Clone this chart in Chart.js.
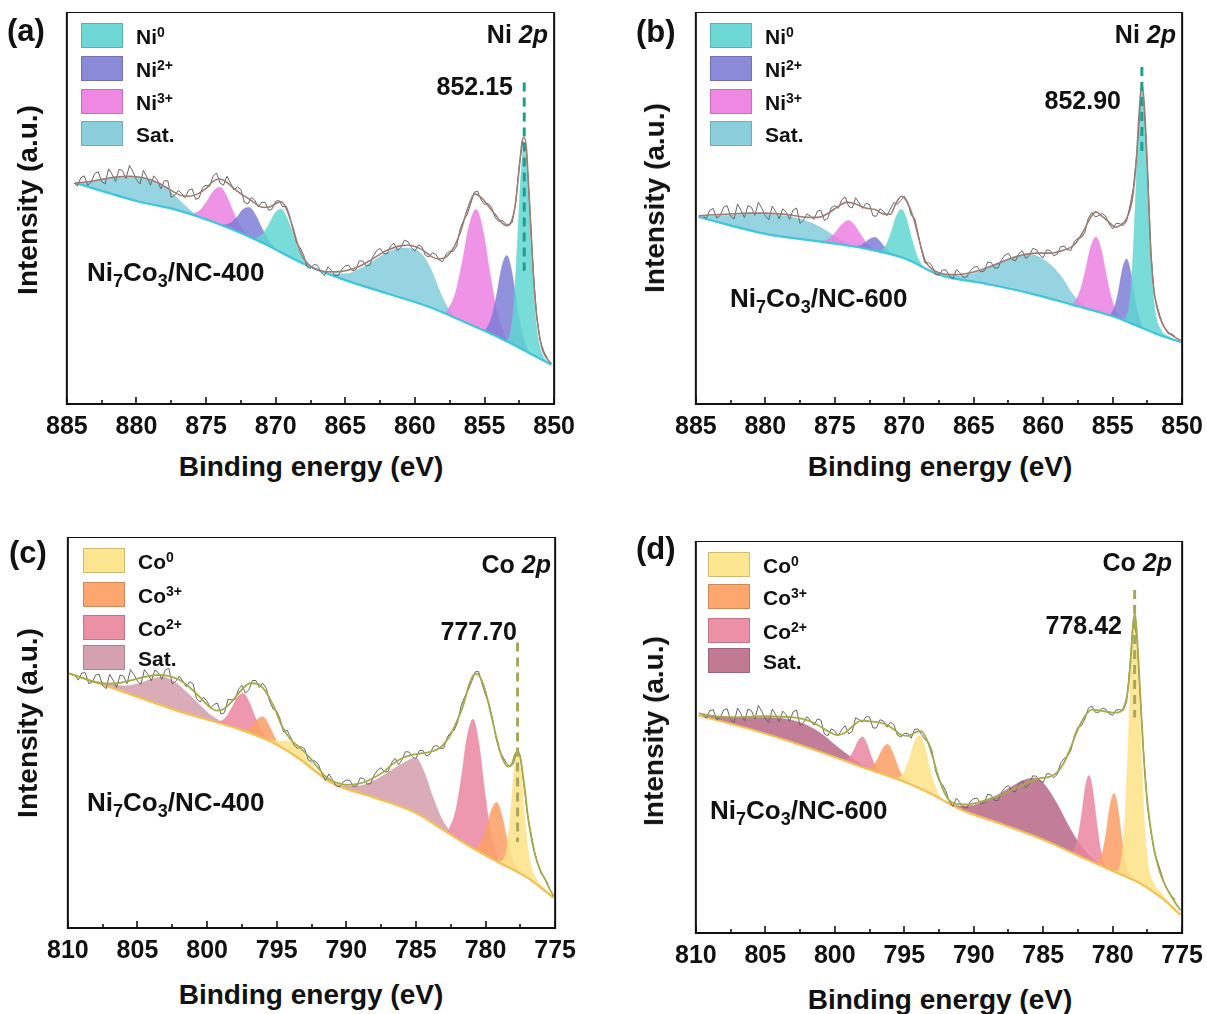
<!DOCTYPE html>
<html><head><meta charset="utf-8">
<script src="https://cdn.jsdelivr.net/npm/chart.js@4.4.1/dist/chart.umd.min.js"></script>
<style>
body{margin:0;background:#fff;width:1207px;height:1014px;overflow:hidden;position:relative;font-family:'Liberation Sans',Arial,sans-serif;}
canvas{position:absolute;}
.t{position:absolute;font-weight:bold;color:#111;white-space:nowrap;line-height:1;}
.pl{font-size:31px;}
.core{font-size:25px;}
.pk{font-size:25px;}
.sm{font-size:26px;}
.xt{font-size:28px;transform:translate(-50%,-50%);}
.yt{font-size:28px;transform:translate(-50%,-50%) rotate(-90deg);}
.lb{position:absolute;width:42px;height:25px;box-sizing:border-box;border:1px solid rgba(0,0,0,0.18);}
.lt{position:absolute;font-weight:bold;font-size:21px;color:#111;line-height:1;white-space:nowrap;}
.lt sup{font-size:14px;position:relative;top:-1px;vertical-align:top;}
.sm sub{font-size:18px;vertical-align:baseline;position:relative;top:6px;}
</style></head>
<body>
<canvas id="ca"></canvas><canvas id="cb"></canvas><canvas id="cc"></canvas><canvas id="cd"></canvas>

<div class="t pl" style="left:7px;top:15px">(a)</div>
<div class="t pl" style="left:636px;top:16px">(b)</div>
<div class="t pl" style="left:9px;top:537px">(c)</div>
<div class="t pl" style="left:636px;top:533px">(d)</div>

<div class="t core" style="right:659px;top:22px">Ni <i>2p</i></div>
<div class="t core" style="right:31px;top:22px">Ni <i>2p</i></div>
<div class="t core" style="right:656px;top:552px">Co <i>2p</i></div>
<div class="t core" style="right:35px;top:550px">Co <i>2p</i></div>

<div class="t pk" style="right:694px;top:74px">852.15</div>
<div class="t pk" style="right:86px;top:88px">852.90</div>
<div class="t pk" style="right:690px;top:619px">777.70</div>
<div class="t pk" style="right:85px;top:613px">778.42</div>

<div class="t sm" style="left:87px;top:259px">Ni<sub>7</sub>Co<sub>3</sub>/NC-400</div>
<div class="t sm" style="left:730px;top:285px">Ni<sub>7</sub>Co<sub>3</sub>/NC-600</div>
<div class="t sm" style="left:87px;top:789px">Ni<sub>7</sub>Co<sub>3</sub>/NC-400</div>
<div class="t sm" style="left:710px;top:797px">Ni<sub>7</sub>Co<sub>3</sub>/NC-600</div>

<div class="t xt" style="left:311px;top:467px">Binding energy (eV)</div>
<div class="t xt" style="left:940px;top:467px">Binding energy (eV)</div>
<div class="t xt" style="left:311px;top:995px">Binding energy (eV)</div>
<div class="t xt" style="left:940px;top:1000px">Binding energy (eV)</div>

<div class="t yt" style="left:28px;top:200px">Intensity (a.u.)</div>
<div class="t yt" style="left:655px;top:198px">Intensity (a.u.)</div>
<div class="t yt" style="left:28px;top:723px">Intensity (a.u.)</div>
<div class="t yt" style="left:654px;top:731px">Intensity (a.u.)</div>

<div id="legends"></div>

<script>
// ---------------- categories / ticks ----------------
const niMajorTicks = [885, 880, 875, 870, 865, 860, 855, 850];
const niMinorTicks = [882.5, 877.5, 872.5, 867.5, 862.5, 857.5, 852.5];
const coMajorTicks = [810, 805, 800, 795, 790, 785, 780, 775];
const coMinorTicks = [807.5, 802.5, 797.5, 792.5, 787.5, 782.5, 777.5];

const niEnergies = [884.5,884,883.5,883,882.5,882,881.5,881,880.5,880,879.5,879,878.5,878,877.5,877,876.5,876,875.5,875,874.5,874,873.5,873,872.5,872,871.5,871,870.5,870,869.5,869,868.5,868,867.5,867,866.5,866,865.5,865,864.5,864,863.5,863,862.5,862,861.5,861,860.5,860,859.5,859,858.5,858,857.5,857,856.5,856,855.5,855,854.5,854,853.5,853,852.5,852,851.5,851,850.5];
const niMidEnergies = [884.25,883.75,883.25,882.75,882.25,881.75,881.25,880.75,880.25,879.75,879.25,878.75,878.25,877.75,877.25,876.75,876.25,875.75,875.25,874.75,874.25,873.75,873.25,872.75,872.25,871.75,871.25,870.75,870.25,869.75,869.25,868.75,868.25,867.75,867.25,866.75,866.25,865.75,865.25,864.75,864.25,863.75,863.25,862.75,862.25,861.75,861.25,860.75,860.25,859.75,859.25,858.75,858.25,857.75,857.25,856.75,856.25,855.75,855.25,854.75,854.25,853.75,853.25,852.75,852.25,851.75,851.25,850.75];
const coEnergies = [809.5,809,808.5,808,807.5,807,806.5,806,805.5,805,804.5,804,803.5,803,802.5,802,801.5,801,800.5,800,799.5,799,798.5,798,797.5,797,796.5,796,795.5,795,794.5,794,793.5,793,792.5,792,791.5,791,790.5,790,789.5,789,788.5,788,787.5,787,786.5,786,785.5,785,784.5,784,783.5,783,782.5,782,781.5,781,780.5,780,779.5,779,778.5,778,777.5,777,776.5,776,775.5];
const coMidEnergies = [809.25,808.75,808.25,807.75,807.25,806.75,806.25,805.75,805.25,804.75,804.25,803.75,803.25,802.75,802.25,801.75,801.25,800.75,800.25,799.75,799.25,798.75,798.25,797.75,797.25,796.75,796.25,795.75,795.25,794.75,794.25,793.75,793.25,792.75,792.25,791.75,791.25,790.75,790.25,789.75,789.25,788.75,788.25,787.75,787.25,786.75,786.25,785.75,785.25,784.75,784.25,783.75,783.25,782.75,782.25,781.75,781.25,780.75,780.25,779.75,779.25,778.75,778.25,777.75,777.25,776.75,776.25,775.75];

// ---------------- (a) Ni 2p, NC-400 ----------------
const aRaw = [56.4,57.7,55.8,58.8,56.7,60.0,56.8,59.5,60.9,57.2,59.6,55.8,57.1,56.9,52.7,54.5,52.6,54.9,52.6,55.8,58.1,56.4,58.1,54.6,54.7,51.0,52.0,51.5,49.4,51.7,50.3,48.1,41.0,38.1,34.6,35.4,32.7,34.1,32.8,35.2,34.0,36.5,35.2,37.7,39.7,38.3,41.0,40.0,41.4,39.0,40.1,37.5,38.2,36.3,39.0,40.3,46.9,51.0,54.3,50.9,50.2,46.6,46.0,46.4,61.0,64.7,33.8,16.1,11.8];
const aRawMid = [55.6,58.2,56.6,59.3,56.1,58.6,59.9,57.5,59.2,56.1,57.9,58.2,54.9,57.0,53.3,53.7,54.6,52.2,55.3,55.5,58.9,55.8,56.4,55.4,51.5,52.7,50.3,51.4,49.8,51.9,50.5,44.1,39.9,35.0,35.6,33.7,35.0,32.8,34.4,35.4,34.2,36.5,35.4,39.1,38.4,40.3,39.1,41.8,39.9,40.6,37.9,38.6,36.7,38.3,38.9,44.7,48.3,54.0,52.1,51.2,47.7,46.9,45.5,51.8,67.0,50.3,22.3,13.5];
const aEnvelope = [[884.4,56.4],[883.5,56.7],[882.5,57.3],[881.5,57.9],[880.5,58.1],[879.5,57.7],[878.5,56.5],[877.5,54.5],[876.8,53.2],[876.2,53.0],[875.6,53.6],[875,55.0],[874.5,56.8],[874,57.4],[873.5,56.5],[873,55.0],[872.5,53.6],[872,52.5],[871.5,51.3],[871,50.2],[870.5,50.2],[870,51.1],[869.6,51.6],[869.2,49.5],[868.8,45.4],[868.4,40.5],[868,37.2],[867.4,34.9],[866.5,33.8],[865.7,33.7],[865,34.0],[864,35.1],[863,37.1],[862,39.2],[861,40.4],[860.5,40.5],[860,40.2],[859.4,39.2],[858.8,37.6],[858.3,37.0],[857.8,37.4],[857.2,40.0],[856.7,44.2],[856.2,50.0],[855.7,53.6],[855.2,52.5],[854.7,50.4],[854.2,48.2],[853.8,46.4],[853.4,45.5],[853.1,46.4],[852.8,50.5],[852.5,60.5],[852.3,67.0],[852.15,68.0],[852.0,65.5],[851.8,53.5],[851.6,40.0],[851.4,28.0],[851.15,19.5],[850.9,14.6],[850.6,12.0],[850.2,10.3]];
const aBaseline = [[884.4,56.4],[880,51.8],[877,49.4],[874,45.8],[871,41.2],[868,35.8],[865,31.6],[862,28.2],[859,24.8],[856,20.2],[854,17.0],[852,13.4],[850.2,10.0]];
const aSat1 = [[884.4,56.4],[883.5,56.6],[882.5,57.2],[881.5,57.8],[880.5,58.0],[879.5,57.6],[878.5,56.3],[877.5,54.0],[876.8,51.6],[876.2,49.6],[875.6,47.7]];
const aNi3p12 = [[876.08,48.3],[875.44,49.4],[874.96,51.6],[874.48,54.3],[874.0,55.3],[873.52,53.0],[873.04,48.9],[872.56,45.5],[871.92,42.6]];
const aNi2p12 = [[873.85,45.6],[873.25,46.2],[872.8,47.6],[872.35,49.6],[871.9,50.1],[871.45,48.2],[871.0,44.9],[870.55,41.9],[869.95,39.3]];
const aNi0p12 = [[871.55,42.0],[870.95,43.3],[870.5,45.7],[870.05,48.7],[869.6,49.7],[869.15,47.1],[868.7,42.5],[868.25,38.5],[867.65,35.3]];
const aSat2 = [[867.2,34.7],[866,33.2],[865,33.2],[864,34.4],[863,36.5],[862,38.6],[861,39.8],[860.3,39.7],[859.5,38.2],[858.8,34.0],[858.2,28.6],[857.6,24.3],[857,21.7]];
const aNi3p32 = [[857.81,23.0],[857.13,27.8],[856.62,35.8],[856.11,45.4],[855.6,49.6],[855.09,43.8],[854.58,32.6],[854.07,23.0],[853.39,15.9]];
const aNi2p32 = [[854.96,18.5],[854.48,22.2],[854.12,27.9],[853.76,34.9],[853.4,37.9],[853.04,33.6],[852.68,25.3],[852.32,18.3],[851.84,13.1]];
const aNi0p32 = [[853.55,15.6],[853.15,18.0],[852.9,25.1],[852.65,40.2],[852.4,57.7],[852.15,65.7],[851.9,56.8],[851.65,39.0],[851.4,24.5],[851.15,16.6],[850.75,12.0],[850.2,10.0]];
const aMarker = [[852.15,82],[852.15,34]];

// ---------------- (b) Ni 2p, NC-600 ----------------
const bRaw = [48.1,49.4,47.4,50.2,47.9,51.0,47.55,50.2,51.5,48.0,50.5,47.2,48.9,49.5,46.05,48.5,47.1,49.4,47.4,50.6,52.1,50.4,52.6,49.9,50.9,47.9,49.2,49.7,50.9,53.0,48.1,43.4,35.9,35.3,32.9,34.2,31.9,33.5,32.4,34.9,33.7,36.2,34.7,36.8,38.4,36.5,39.1,37.9,39.4,37.3,39.2,38.2,40.3,39.2,42.3,43.8,48.9,48.1,47.9,44.7,46.0,46.6,55.4,77.4,60.5,27.7,21.3,17.9,17.2];
const bRawMid = [47.3,49.9,48.1,50.6,47.2,49.4,50.6,48.1,49.9,47.0,49.1,49.8,47.1,50.0,46.9,47.9,49.2,46.8,50.1,49.9,52.8,50.0,51.3,51.2,48.0,49.8,48.0,51.4,51.9,51.5,47.4,39.0,36.1,33.0,34.2,32.7,34.3,32.3,34.0,35.1,33.9,36.1,34.7,38.0,36.9,38.4,37.1,39.7,38.0,39.3,37.8,40.1,39.3,41.5,42.4,47.4,47.7,48.6,45.9,46.1,45.5,50.7,64.6,77.0,38.8,24.3,19.4,17.9];
const bEnvelope = [[884.8,48.0],[884,48.2],[883,48.4],[882,48.6],[881,48.7],[880,48.7],[879,48.5],[878,48.1],[877,47.6],[876.2,47.6],[875.5,48.6],[874.8,50.3],[874.1,51.5],[873.5,51.0],[872.8,50.0],[872.1,49.6],[871.5,48.5],[871,48.4],[870.6,51.2],[870.2,53.0],[869.8,51.5],[869.3,47.0],[868.9,41.5],[868.5,36.6],[868,34.4],[867.5,33.5],[866.5,33.0],[865.5,33.3],[864.5,34.2],[863.5,35.5],[862.5,36.9],[861.5,38.0],[860.5,38.5],[859.5,38.5],[858.5,39.3],[857.8,40.5],[857.2,43.5],[856.6,47.5],[856.2,49.0],[855.8,48.0],[855.3,46.5],[854.8,45.1],[854.3,46.0],[854.0,47.3],[853.6,52.0],[853.3,62.0],[853.1,74.0],[852.9,81.8],[852.7,75.0],[852.5,60.0],[852.3,42.0],[852.1,31.0],[851.8,24.5],[851.4,20.3],[851,18.3],[850.5,17.0],[850.1,16.2]];
const bBaseline = [[884.8,47.7],[880,43.4],[876,41.4],[873,39.8],[870,37.2],[867.5,33.0],[864,30.6],[861,28.3],[858,25.4],[855,22.4],[853,19.6],[851.5,17.4],[850.1,15.8]];
const bSat1 = [[884.8,47.7],[883.5,48.0],[882,48.3],[880.5,48.4],[879,48.1],[878,47.6],[877,46.6],[876,45.0],[875.2,43.2],[874.5,41.7],[873.6,40.1]];
const bNi3p12 = [[875.95,41.4],[875.35,42.3],[874.9,44.0],[874.45,45.9],[874.0,46.8],[873.55,45.4],[873.1,43.0],[872.65,40.8],[872.05,39.0]];
const bNi2p12 = [[873.53,40.1],[873.09,40.5],[872.76,41.3],[872.43,42.2],[872.1,42.5],[871.77,41.6],[871.44,40.1],[871.11,38.9],[870.67,37.8]];
const bNi0p12 = [[871.76,38.7],[871.28,40.7],[870.92,44.0],[870.56,48.0],[870.2,49.7],[869.84,47.2],[869.48,42.3],[869.12,38.1],[868.64,34.9]];
const bSat2 = [[867.6,33.2],[866.2,32.7],[865,33.3],[864,34.6],[863,36.2],[862,37.7],[861,38.2],[860.3,37.5],[859.5,35.6],[858.7,32.5],[858,28.6],[857.3,25.7],[856.5,23.9]];
const bNi3p32 = [[857.89,25.3],[857.37,28.6],[856.98,33.7],[856.59,39.9],[856.2,42.6],[855.81,39.1],[855.42,32.1],[855.03,26.2],[854.51,21.7]];
const bNi2p32 = [[855.17,22.6],[854.81,25.3],[854.54,29.6],[854.27,34.8],[854.0,37.0],[853.73,34.0],[853.46,28.0],[853.19,23.1],[852.83,19.35]];
const bNi0p32 = [[854.3,21.4],[853.9,23.6],[853.65,31.0],[853.4,48.1],[853.15,70.0],[852.9,80.5],[852.65,69.3],[852.4,47.1],[852.15,30.4],[851.9,22.7],[851.5,18.7],[851.0,17.3],[850.1,15.8]];
const bMarker = [[852.9,86],[852.9,64]];

// ---------------- (c) Co 2p, NC-400 ----------------
const cRaw = [64.6,65.2,62.5,64.7,62.0,64.9,61.5,64.4,66.1,63.1,66.1,63.2,65.3,66.0,62.4,64.4,61.7,62.4,57.8,58.0,57.2,54.7,58.4,58.4,62.1,60.9,63.3,62.6,57.9,55.5,50.1,48.8,45.9,45.9,42.5,41.8,37.7,38.0,36.1,37.8,36.2,38.4,36.8,39.1,41.0,40.0,43.4,43.0,45.0,43.3,45.4,44.4,46.7,46.0,50.0,52.6,59.1,63.0,65.6,59.6,53.6,45.3,42.2,42.0,44.0,29.2,19.8,13.9,11.2];
const cRawMid = [63.4,65.3,62.9,64.9,61.2,63.4,64.7,62.5,64.8,62.3,64.9,66.0,63.6,66.4,63.1,63.2,63.0,58.6,59.0,56.2,57.5,55.1,58.4,61.0,60.1,63.3,61.5,61.3,56.0,53.4,50.6,46.7,46.4,43.1,42.8,39.4,39.4,36.4,37.3,37.8,36.3,38.2,36.9,40.4,39.9,42.3,41.8,45.1,43.8,45.4,44.0,46.4,45.9,48.8,50.6,56.9,60.8,65.5,62.5,57.4,48.6,43.7,41.3,45.3,36.8,24.5,16.5,12.8];
const cEnvelope = [[809.9,65.1],[809,64.0],[808.2,63.0],[807.3,62.5],[806.5,62.6],[805.5,63.3],[804.5,64.2],[803.5,64.7],[802.8,64.5],[802,63.5],[801.3,61.7],[800.5,59.0],[799.8,56.5],[799.3,55.6],[798.8,56.0],[798.2,58.0],[797.5,61.0],[796.9,62.6],[796.3,62.4],[795.8,60.5],[795.2,56.6],[794.6,51.5],[794,48.2],[793.3,46.0],[792.6,43.5],[792,40.8],[791.5,38.8],[791,37.6],[790.5,37.0],[790,36.6],[789.3,36.8],[788.6,37.4],[788,38.5],[787.3,40.0],[786.7,41.9],[786,43.4],[785.3,44.3],[784.5,44.7],[783.8,45.2],[783.2,46.3],[782.6,48.9],[782.1,52.5],[781.6,57.0],[781.2,62.0],[780.9,64.5],[780.6,65.0],[780.3,63.5],[780,60.5],[779.6,54.5],[779.2,48.5],[778.8,43.5],[778.4,41.3],[778.1,42.0],[777.9,44.2],[777.7,45.2],[777.5,43.5],[777.2,36.0],[776.9,27.0],[776.5,19.5],[776.1,15.0],[775.7,12.3],[775.4,10.0],[775.1,8.1]];
const cBaseline = [[809.9,65.1],[806,60.4],[802,55.4],[798,51.2],[795.5,47.8],[793.5,43.6],[791,37.0],[788,33.4],[785,29.4],[783,25.0],[781,20.6],[779,16.7],[777,12.9],[775.1,7.7]];
const cSat1 = [[808.5,63.4],[807.2,62.6],[806,61.9],[805,62.4],[804,63.6],[803.2,64.2],[802.3,62.8],[801.5,60.4],[800.6,57.3],[799.8,54.6],[799,52.8],[798.2,51.4]];
const cCo2p12 = [[799.22,52.5],[798.66,53.8],[798.24,56.2],[797.82,59.0],[797.4,60.0],[796.98,57.8],[796.56,54.0],[796.14,50.6],[795.58,47.9]];
const cCo3p12 = [[797.43,50.4],[796.99,50.9],[796.66,52.1],[796.33,53.5],[796.0,54.0],[795.67,52.6],[795.34,50.2],[795.01,47.9],[794.57,45.8]];
const cCo0p12 = [[795.88,48.3],[795.24,47.9],[794.76,47.8],[794.28,47.8],[793.8,47.2],[793.32,45.6],[792.84,43.4],[792.36,41.2],[791.72,38.9]];
const cSat2 = [[791,37.0],[790,36.3],[789,36.4],[788,37.7],[787,39.8],[786,42.0],[785,43.4],[784.4,39.8],[783.8,33.6],[783.2,28.3],[782.4,23.7]];
const cCo2p32 = [[782.72,24.4],[782.16,29.7],[781.74,38.3],[781.32,48.9],[780.9,53.4],[780.48,47.2],[780.06,34.9],[779.64,24.5],[779.08,16.9]];
const cCo3p32 = [[780.76,20.1],[780.28,22.2],[779.92,25.8],[779.56,30.3],[779.2,32.1],[778.84,28.9],[778.48,23.0],[778.12,18.0],[777.64,14.1]];
const cCo0p32 = [[779.1,16.9],[778.7,17.5],[778.45,20.9],[778.2,29.3],[777.95,40.2],[777.7,45.2],[777.45,39.7],[777.2,28.9],[776.95,20.1],[776.7,15.5],[776.3,12.3],[775.8,10.2],[775.1,7.7]];
const cMarker = [[777.7,73],[777.7,22]];

// ---------------- (d) Co 2p, NC-600 ----------------
const dRaw = [55.8,56.7,54.4,56.9,54.45,57.4,54.0,56.7,58.05,54.6,57.15,53.9,55.7,56.4,52.9,55.2,53.0,54.3,50.3,51.6,51.9,50.8,54.9,53.8,55.1,52.3,54.1,53.8,50.5,50.9,49.7,52.0,49.3,46.4,38.9,36.2,32.3,33.3,31.9,34.3,33.0,35.4,33.8,35.9,37.6,36.0,38.8,38.1,40.0,38.4,40.6,40.4,44.5,46.7,52.5,54.6,57.9,56.3,57.1,55.5,57.0,58.9,80.5,59.2,32.3,20.6,15.2,10.7,8.5];
const dRawMid = [54.8,57.0,54.9,57.2,53.6,55.9,57.1,54.6,56.5,53.6,55.7,56.6,54.0,56.9,53.7,54.2,54.6,50.8,52.1,50.3,52.9,51.4,54.4,55.2,52.3,54.4,52.5,53.2,50.0,50.9,52.0,50.6,48.6,41.4,37.8,33.5,34.4,32.0,33.5,34.4,33.2,35.2,33.8,37.1,36.2,38.0,37.0,40.1,38.9,40.6,39.6,43.3,45.1,50.4,52.9,57.3,56.3,57.4,55.9,56.9,56.7,68.5,75.3,44.8,25.9,17.9,12.2,9.4];
const dEnvelope = [[809.8,56.0],[809,55.5],[808,55.1],[807,55.0],[806,55.2],[805,55.3],[804,55.2],[803,55.0],[802,54.3],[801.2,53.0],[800.5,51.5],[799.8,50.5],[799.3,51.0],[798.7,52.8],[798.1,54.2],[797.5,54.0],[796.9,53.8],[796.3,53.2],[795.7,51.8],[795.2,50.5],[794.7,50.3],[794.2,51.2],[793.8,51.5],[793.4,49.5],[793,45.5],[792.6,40.5],[792.2,36.5],[791.8,34.0],[791.3,33.0],[790.5,32.8],[789.8,33.2],[789,34.0],[788,35.3],[787,36.9],[786,38.5],[785.2,39.5],[784.5,39.9],[784,41.0],[783.5,43.5],[783,47.5],[782.5,52.0],[782,55.3],[781.5,57.0],[781,56.8],[780.5,56.5],[780,56.2],[779.6,56.3],[779.2,57.5],[778.9,62.0],[778.7,70.0],[778.55,78.0],[778.42,81.5],[778.3,78.5],[778.15,70.0],[778.0,60.0],[777.8,47.0],[777.6,37.0],[777.3,27.5],[777,21.0],[776.6,15.5],[776.2,12.0],[775.8,9.5],[775.4,7.2],[775.1,5.8]];
const dBaseline = [[809.8,55.5],[806,51.9],[802,47.4],[798,42.3],[795,38.6],[793,35.4],[791,31.6],[788,27.8],[785,23.8],[782,19.0],[780,15.8],[778,12.6],[776.5,9.0],[775.1,4.6]];
const dSat1 = [[809.8,55.5],[808.5,55.2],[807,55.0],[805.5,55.0],[804,54.8],[802.8,54.0],[801.8,52.6],[800.8,50.4],[800,48.0],[799.2,45.8],[798.5,44.0],[797.6,41.8]];
const dCo2p12 = [[799.3,44.0],[798.9,45.0],[798.6,46.8],[798.3,49.1],[798,50.0],[797.7,48.3],[797.4,45.3],[797.1,42.7],[796.7,40.7]];
const dCo3p12 = [[797.63,41.85],[797.19,42.9],[796.86,44.8],[796.53,47.2],[796.2,48.1],[795.87,46.4],[795.54,43.2],[795.21,40.5],[794.77,38.2]];
const dCo0p12 = [[795.46,39.2],[794.98,41.3],[794.62,44.6],[794.26,48.8],[793.9,50.4],[793.54,47.7],[793.18,42.3],[792.82,37.8],[792.34,34.1]];
const dSat2 = [[792.2,33.9],[791,32.4],[790,32.6],[789,33.9],[788,35.8],[787,37.9],[786,39.4],[785.5,39.5],[784.8,37.4],[784,32.9],[783.2,27.5],[782.4,22.8],[781.6,19.4],[780.8,17.1]];
const dCo2p32 = [[782.87,20.4],[782.51,24.1],[782.24,30.0],[781.97,37.1],[781.7,40.2],[781.43,36.2],[781.16,28.3],[780.89,21.5],[780.53,16.6]];
const dCo3p32 = [[781.07,17.5],[780.71,20.9],[780.44,26.2],[780.17,32.8],[779.9,35.6],[779.63,31.9],[779.36,24.5],[779.09,18.3],[778.73,13.8]];
const dCo0p32 = [[779.82,15.5],[779.42,17.8],[779.17,26.0],[778.92,44.8],[778.67,68.8],[778.42,80.3],[778.17,68.5],[777.92,44.6],[777.67,25.8],[777.42,16.9],[777.02,12.5],[776.5,10.2],[775.8,7.2],[775.1,4.6]];
const dMarker = [[778.42,87.5],[778.42,55]];

// ---------------- legends ----------------
const niLegend = [["Ni","0"],["Ni","2+"],["Ni","3+"],["Sat.",""]];
const coLegend = [["Co","0"],["Co","3+"],["Co","2+"],["Sat.",""]];

// ---------------- colours ----------------
const C = {
  ni0:'rgba(96,214,210,0.85)', ni2:'rgba(126,126,214,0.85)', ni3:'rgba(236,128,226,0.85)', niSat:'rgba(130,204,218,0.85)',
  niBase:'#3ec6de', niEnv:'#a07c74',
  co0:'rgba(253,226,138,0.88)', co3:'rgba(252,160,104,0.88)', co2:'rgba(234,134,160,0.85)', coSatC:'rgba(210,158,170,0.85)', coSatD:'rgba(186,108,138,0.88)',
  coBase:'#f4bf55', coEnv:'#a4ac48', raw:'#666666', markNi:'#1fa08c', markCo:'#a8a85a'
};
const FONT = "'Liberation Sans', Arial, sans-serif";

const framePlugin = {
  id:'frame',
  afterDatasetsDraw(chart, args, opts){
    const {ctx, chartArea:a, scales:{x}} = chart;
    ctx.save();
    ctx.strokeStyle = '#111'; ctx.lineWidth = 2;
    ctx.strokeRect(a.left, a.top, a.right - a.left, a.bottom - a.top);
    ctx.lineWidth = 1.6;
    ctx.beginPath();
    opts.major.forEach(v => { const px = Math.round(x.getPixelForValue(v)); ctx.moveTo(px, a.bottom); ctx.lineTo(px, a.bottom - 7); });
    opts.minor.forEach(v => { const px = Math.round(x.getPixelForValue(v)); ctx.moveTo(px, a.bottom); ctx.lineTo(px, a.bottom - 4); });
    ctx.stroke();
    ctx.restore();
  }
};

function lineDs(data, color, width, order, extra){
  return Object.assign({data, borderColor:color, borderWidth:width, pointRadius:0, fill:false, order, cubicInterpolationMode:'monotone'}, extra || {});
}
function peakDs(data, color, order){
  return {data, backgroundColor:color, borderColor:color, borderWidth:0.6, pointRadius:0, fill:{target:0}, order, cubicInterpolationMode:'monotone'};
}
// measured spectrum: grid points and the in-between points merged, high BE first
function rawPoints(xs, ys, xm, ym){
  const pts = xs.map((x, i) => [x, ys[i]]).concat(xm.map((x, i) => [x, ym[i]]));
  return pts.sort((p, q) => q[0] - p[0]);
}

function makeConfig(p){
  return {
    type:'line',
    data:{datasets:p.datasets},
    options:{
      responsive:false, animation:false, devicePixelRatio:1,
      layout:{padding:0},
      plugins:{legend:{display:false}, tooltip:{enabled:false}, frame:{major:p.major, minor:p.minor}},
      scales:{
        x:{type:'linear', reverse:true, min:p.min, max:p.max,
           afterFit(s){ s.height = 46; },
           afterBuildTicks(s){ s.ticks = p.major.map(v => ({value:v})); },
           grid:{display:false, drawTicks:false}, border:{display:false},
           ticks:{padding:8, color:'#111', autoSkip:false, maxRotation:0, font:{family:FONT, size:25, weight:'bold'}}},
        y:{display:false, min:0, max:100}
      }
    },
    plugins:[framePlugin]
  };
}

function buildPanel(id, box, p){
  const cv = document.getElementById(id);
  cv.width = box.R - box.L + 80; cv.height = box.B - box.T + 60;
  let ch = new Chart(cv, makeConfig(p));
  const a = ch.chartArea;
  const offL = a.left, offT = a.top, offR = cv.width - a.right, offB = cv.height - a.bottom;
  ch.destroy();
  cv.width = (box.R - box.L) + offL + offR;
  cv.height = (box.B - box.T) + offT + offB;
  cv.style.left = (box.L - offL) + 'px';
  cv.style.top = (box.T - offT) + 'px';
  return new Chart(cv, makeConfig(p));
}

function niSets(base, env, raw, sat1, n3a, n2a, n0a, sat2, n3b, n2b, n0b, mark){
  return [
    lineDs(base, C.niBase, 2.2, 2),
    peakDs(sat1, C.niSat, 10), peakDs(sat2, C.niSat, 10),
    peakDs(n3a, C.ni3, 9), peakDs(n3b, C.ni3, 9),
    peakDs(n2a, C.ni2, 8), peakDs(n2b, C.ni2, 8),
    peakDs(n0a, C.ni0, 7), peakDs(n0b, C.ni0, 7),
    lineDs(raw, C.raw, 1, 1, {cubicInterpolationMode:'default', tension:0}),
    lineDs(env, C.niEnv, 1.6, 0),
    lineDs(mark, C.markNi, 3, -1, {borderDash:[9,6], cubicInterpolationMode:'default', tension:0})
  ];
}
function coSets(base, env, raw, satColor, sat1, c2a, c3a, c0a, sat2, c2b, c3b, c0b, mark){
  return [
    lineDs(base, C.coBase, 2.2, 2),
    peakDs(sat1, satColor, 10), peakDs(sat2, satColor, 10),
    peakDs(c2a, C.co2, 9), peakDs(c2b, C.co2, 9),
    peakDs(c3a, C.co3, 8), peakDs(c3b, C.co3, 8),
    peakDs(c0a, C.co0, 7), peakDs(c0b, C.co0, 7),
    lineDs(raw, C.raw, 1, 1, {cubicInterpolationMode:'default', tension:0}),
    lineDs(env, C.coEnv, 1.8, 0),
    lineDs(mark, C.markCo, 3, -1, {borderDash:[9,6], cubicInterpolationMode:'default', tension:0})
  ];
}

buildPanel('ca', {L:67, T:12, R:555, B:404}, {min:850, max:885, major:niMajorTicks, minor:niMinorTicks,
  datasets:niSets(aBaseline, aEnvelope, rawPoints(niEnergies, aRaw, niMidEnergies, aRawMid), aSat1, aNi3p12, aNi2p12, aNi0p12, aSat2, aNi3p32, aNi2p32, aNi0p32, aMarker)});
buildPanel('cb', {L:696, T:12, R:1183, B:404}, {min:850, max:885, major:niMajorTicks, minor:niMinorTicks,
  datasets:niSets(bBaseline, bEnvelope, rawPoints(niEnergies, bRaw, niMidEnergies, bRawMid), bSat1, bNi3p12, bNi2p12, bNi0p12, bSat2, bNi3p32, bNi2p32, bNi0p32, bMarker)});
buildPanel('cc', {L:68, T:537, R:556, B:928}, {min:775, max:810, major:coMajorTicks, minor:coMinorTicks,
  datasets:coSets(cBaseline, cEnvelope, rawPoints(coEnergies, cRaw, coMidEnergies, cRawMid), C.coSatC, cSat1, cCo2p12, cCo3p12, cCo0p12, cSat2, cCo2p32, cCo3p32, cCo0p32, cMarker)});
buildPanel('cd', {L:696, T:541, R:1183, B:933}, {min:775, max:810, major:coMajorTicks, minor:coMinorTicks,
  datasets:coSets(dBaseline, dEnvelope, rawPoints(coEnergies, dRaw, coMidEnergies, dRawMid), C.coSatD, dSat1, dCo2p12, dCo3p12, dCo0p12, dSat2, dCo2p32, dCo3p32, dCo0p32, dMarker)});

// legends (HTML, real text)
const legendSpecs = [
  {items:niLegend, colors:['#6ed8d6','#8a8ad8','#ee88e2','#8ccfdc'], x:81, tx:136, ys:[23,56,89,121]},
  {items:niLegend, colors:['#6ed8d6','#8a8ad8','#ee88e2','#8ccfdc'], x:710, tx:765, ys:[23,56,89,121]},
  {items:coLegend, colors:['#fde690','#fda66e','#ec90a6','#d4a2ae'], x:83, tx:138, ys:[548,582,615,645]},
  {items:coLegend, colors:['#fde690','#fda66e','#ec90a6','#c27a92'], x:708, tx:763, ys:[552,584,618,648]}
];
const host = document.getElementById('legends');
legendSpecs.forEach(spec => {
  spec.items.forEach((it, i) => {
    const b = document.createElement('div');
    b.className = 'lb'; b.style.left = spec.x + 'px'; b.style.top = spec.ys[i] + 'px'; b.style.background = spec.colors[i];
    host.appendChild(b);
    const t = document.createElement('div');
    t.className = 'lt'; t.style.left = spec.tx + 'px'; t.style.top = (spec.ys[i] + 3) + 'px';
    t.innerHTML = it[0] + (it[1] ? '<sup>' + it[1] + '</sup>' : '');
    host.appendChild(t);
  });
});
</script>
</body></html>
